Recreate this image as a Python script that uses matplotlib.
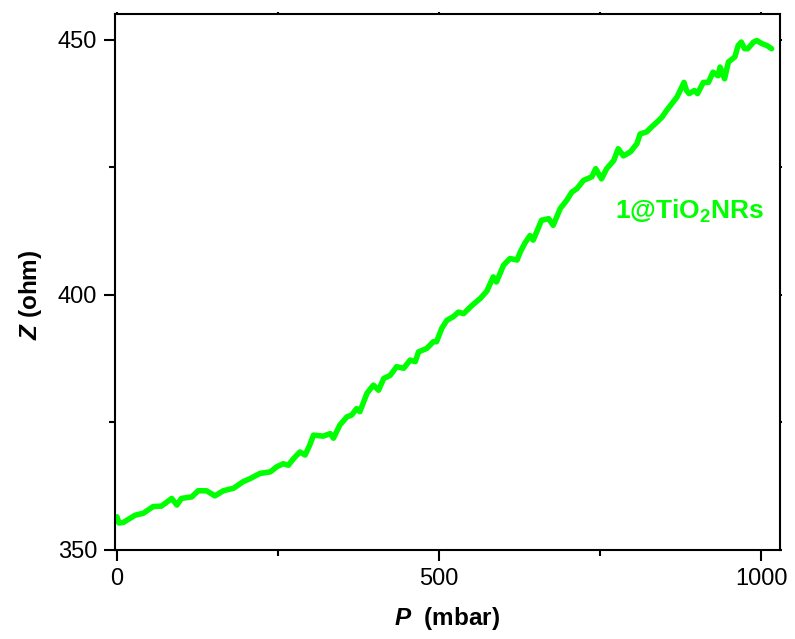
import numpy as np
import matplotlib
matplotlib.use("Agg")
import matplotlib.pyplot as plt

# impedance vs pressure trace for the 1@TiO2 nanorod sensor
pressure = [0, 3, 10, 28, 41, 56, 69, 85, 93, 100, 116, 126, 139, 152, 165, 181, 196, 207,
            222, 238, 248, 258, 266, 274, 284, 292, 299, 305, 320, 331, 336, 346, 357, 364,
            372, 377, 388, 398, 406, 414, 424, 434, 445, 455, 463, 468, 481, 491, 496, 504,
            512, 522, 530, 538, 551, 564, 574, 584, 589, 600, 610, 621, 626, 633, 641, 646,
            659, 670, 677, 688, 698, 706, 714, 724, 737, 743, 752, 760, 771, 778, 786, 797,
            807, 812, 822, 830, 838, 846, 853, 861, 869, 874, 880, 884, 888, 896, 901, 910,
            918, 925, 933, 936, 943, 949, 959, 964, 969, 974, 979, 988, 993, 1001, 1009, 1016]
impedance = [356.5, 355.3, 355.4, 356.8, 357.2, 358.5, 358.6, 360.1, 358.8, 360.1, 360.4,
             361.6, 361.6, 360.6, 361.6, 362.1, 363.4, 364.0, 365.0, 365.3, 366.3, 366.9,
             366.6, 367.9, 369.2, 368.6, 370.5, 372.5, 372.3, 372.8, 371.9, 374.5, 376.1,
             376.4, 377.7, 377.1, 380.7, 382.3, 381.3, 383.6, 384.2, 385.9, 385.6, 387.2,
             386.9, 388.8, 389.5, 390.8, 390.8, 393.4, 395.0, 395.7, 396.6, 396.3, 397.9,
             399.3, 400.7, 403.5, 402.5, 405.8, 407.1, 406.8, 408.4, 410.1, 411.6, 410.7,
             414.6, 414.9, 413.6, 416.9, 418.5, 420.1, 420.8, 422.4, 423.1, 424.7, 422.7,
             424.7, 426.3, 428.6, 427.2, 428.0, 429.6, 431.5, 431.9, 432.9, 433.8, 434.8,
             436.1, 437.4, 438.7, 440.0, 441.6, 440.0, 439.4, 440.0, 439.4, 441.6, 441.6,
             443.6, 442.9, 444.6, 442.3, 445.6, 446.6, 448.8, 449.5, 448.2, 448.2, 449.5,
             449.8, 449.2, 448.8, 448.2]

x_ticks = [0, 500, 1000]
y_ticks = [350, 400, 450]
label_text = r"1@TiO$_\mathbf{2}$NRs"
green = "#00ff00"

plt.rcParams["font.family"] = "Liberation Sans"
plt.rcParams["mathtext.fontset"] = "custom"
plt.rcParams["mathtext.rm"] = "Liberation Sans"
plt.rcParams["mathtext.bf"] = "Liberation Sans:bold"
plt.rcParams["mathtext.bfit"] = "Liberation Sans:italic:bold"

fig = plt.figure(figsize=(7.95, 6.39), dpi=100)
ax = fig.add_axes([0.1447, 0.1393, 0.8364, 0.8388])

ax.plot(pressure, impedance, color=green, lw=4, solid_joinstyle="round", solid_capstyle="round")

ax.set_xlim(-3, 1029)
ax.set_ylim(350, 455)
ax.set_xticks(x_ticks)
ax.set_yticks(y_ticks)
ax.set_xticks([250, 750], minor=True)
ax.set_yticks([375, 425], minor=True)

for s in ax.spines.values():
    s.set_linewidth(1.5)
ax.tick_params(which="major", direction="out", length=8, width=1.5, labelsize=17, pad=5)
ax.tick_params(which="minor", direction="out", length=4.5, width=1.5)
ax.tick_params(which="both", top=True, right=True)
# tiny mirrored ticks on top and right
for t in ax.xaxis.get_major_ticks() + ax.xaxis.get_minor_ticks():
    t.tick2line.set_markersize(1.5)
for t in ax.yaxis.get_major_ticks() + ax.yaxis.get_minor_ticks():
    t.tick2line.set_markersize(1.5)

ax.text(773, 415, label_text, color=green, fontsize=19, fontweight="bold",
        ha="left", va="baseline")

fig.text(447 / 795, 1 - 618 / 639, r"$\mathbfit{P}$  (mbar)", fontsize=17.5,
         fontweight="bold", ha="center", va="center")
fig.text(31 / 795, 1 - 295 / 639, r"$\mathbfit{Z}$ (ohm)", fontsize=17.5,
         fontweight="bold", ha="center", va="center", rotation=90)

fig.savefig("out.png", dpi=100)
